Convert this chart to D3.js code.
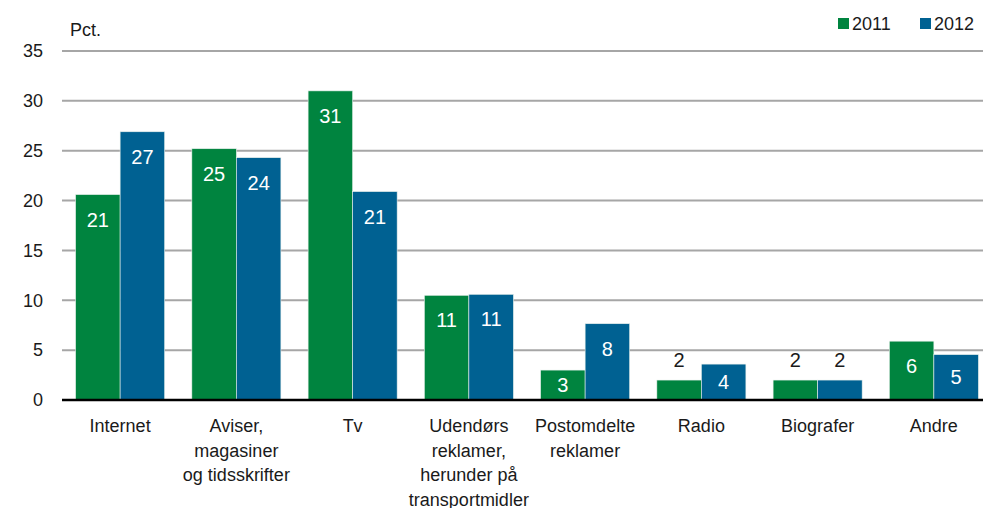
<!DOCTYPE html>
<html>
<head>
<meta charset="utf-8">
<script src="https://cdn.jsdelivr.net/npm/d3@7"></script>
<style>
  body { margin: 0; background: #fff; }
  svg text { font-family: "Liberation Sans Narrow", "Arial Narrow", "Liberation Sans", Arial, sans-serif; }
</style>
</head>
<body>
<div id="chart"></div>
<script>
var categories = [
  ["Internet"],
  ["Aviser,", "magasiner", "og tidsskrifter"],
  ["Tv"],
  ["Udendørs", "reklamer,", "herunder på", "transportmidler"],
  ["Postomdelte", "reklamer"],
  ["Radio"],
  ["Biografer"],
  ["Andre"]
];
var series = ["2011", "2012"];
var values2011 = [20.6, 25.2, 31.0, 10.5, 3.0, 2.0, 2.0, 5.9];
var values2012 = [26.9, 24.3, 20.9, 10.6, 7.65, 3.6, 2.0, 4.55];
var yTicks = [0, 5, 10, 15, 20, 25, 30, 35];
var colors = ["#00843f", "#006192"];

var W = 983, H = 508;
var svg = d3.select("#chart").append("svg")
    .attr("width", W).attr("height", H);

var x0 = d3.scaleBand()
    .domain(d3.range(categories.length))
    .range([62, 992])
    .paddingInner(0.234)
    .paddingOuter(0.117);

var x1 = d3.scaleBand()
    .domain(series)
    .range([0, x0.bandwidth()]);

var y = d3.scaleLinear().domain([0, 35]).range([400, 51]);

// grid lines
svg.append("g")
  .selectAll("line")
  .data(yTicks.filter(function(d) { return d > 0; }))
  .enter().append("line")
    .attr("x1", 62).attr("x2", W)
    .attr("y1", y).attr("y2", y)
    .attr("stroke", "#a6a6a6")
    .attr("stroke-width", 2);

// y axis labels
svg.append("g")
  .selectAll("text")
  .data(yTicks)
  .enter().append("text")
    .attr("x", 43)
    .attr("y", function(d) { return y(d); })
    .attr("dy", "0.35em")
    .attr("text-anchor", "end")
    .attr("font-size", 18)
    .attr("fill", "#1a1a1a")
    .text(function(d) { return d; });

svg.append("text")
  .attr("x", 70).attr("y", 36)
  .attr("font-size", 18)
  .attr("fill", "#1a1a1a")
  .text("Pct.");

// bars
var rows = categories.map(function(c, i) {
  return [{s: "2011", v: values2011[i], i: i}, {s: "2012", v: values2012[i], i: i}];
});

var groups = svg.append("g")
  .selectAll("g")
  .data(rows)
  .enter().append("g")
    .attr("transform", function(d, i) { return "translate(" + x0(i) + ",0)"; });

groups.selectAll("rect")
  .data(function(d) { return d; })
  .enter().append("rect")
    .attr("x", function(d) { return x1(d.s); })
    .attr("width", x1.bandwidth())
    .attr("y", function(d) { return y(d.v); })
    .attr("height", function(d) { return y(0) - y(d.v); })
    .attr("fill", function(d, j) { return colors[j]; })
    .attr("stroke", "#e8f0ec")
    .attr("stroke-width", 0.6);

groups.selectAll("text")
  .data(function(d) { return d; })
  .enter().append("text")
    .attr("x", function(d) { return x1(d.s) + x1.bandwidth() / 2; })
    .attr("y", function(d) {
      if (d.v < 2.5) return y(d.v) - 20;
      return Math.min(y(d.v) + 25, (y(d.v) + y(0)) / 2);
    })
    .attr("dy", "0.35em")
    .attr("text-anchor", "middle")
    .attr("font-size", 20)
    .attr("fill", function(d) { return d.v < 2.5 ? "#1a1a1a" : "#ffffff"; })
    .text(function(d) { return Math.round(d.v); });

// x axis line
svg.append("line")
  .attr("x1", 62).attr("x2", W)
  .attr("y1", y(0)).attr("y2", y(0))
  .attr("stroke", "#000")
  .attr("stroke-width", 2.5);

// category labels
var cl = svg.append("g")
  .selectAll("text")
  .data(categories)
  .enter().append("text")
    .attr("x", function(d, i) { return x0(i) + x0.bandwidth() / 2; })
    .attr("y", 432)
    .attr("text-anchor", "middle")
    .attr("font-size", 18)
    .attr("fill", "#1a1a1a");

cl.selectAll("tspan")
  .data(function(d) { return d; })
  .enter().append("tspan")
    .attr("x", function() { return d3.select(this.parentNode).attr("x"); })
    .attr("dy", function(d, k) { return k === 0 ? 0 : 24.5; })
    .text(function(d) { return d; });

// legend
var legend = svg.append("g");
var legX = [838, 920];
series.forEach(function(s, j) {
  legend.append("rect")
    .attr("x", legX[j]).attr("y", 18)
    .attr("width", 11).attr("height", 11)
    .attr("fill", colors[j]);
  legend.append("text")
    .attr("x", legX[j] + 14).attr("y", 30)
    .attr("font-size", 18)
    .attr("fill", "#1a1a1a")
    .text(s);
});
</script>
</body>
</html>
